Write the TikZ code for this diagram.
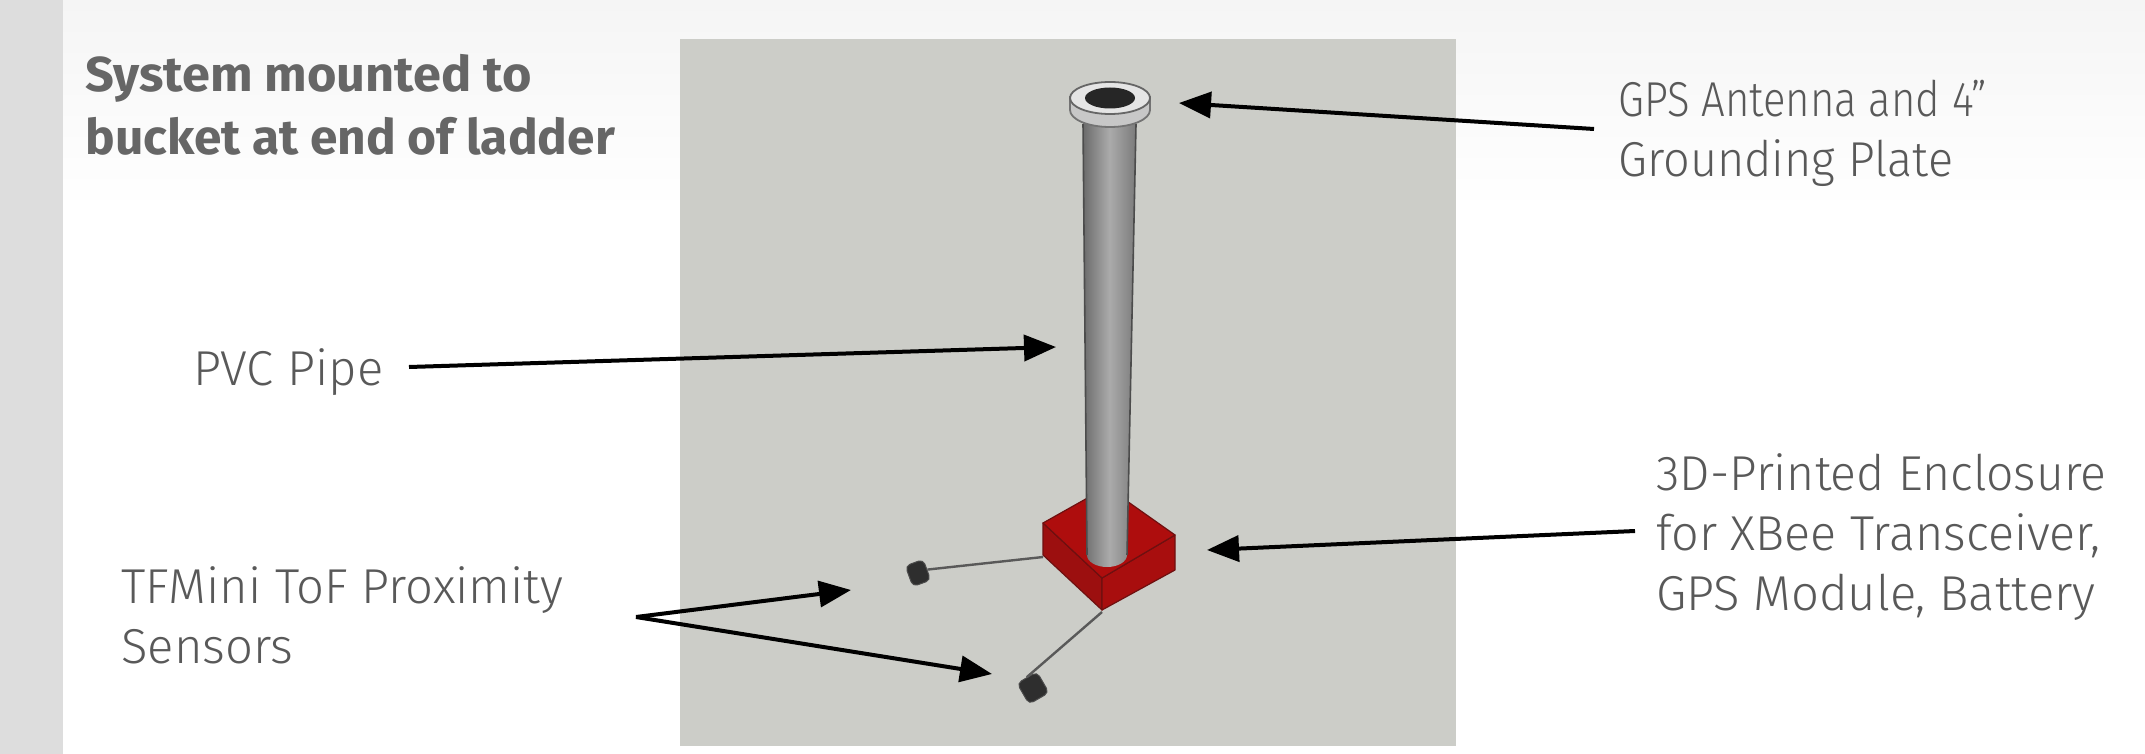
\documentclass[tikz,border=0pt]{standalone}
\usepackage{fontspec}
\setmainfont{Fira Sans}
\newfontfamily\lightfont{Fira Sans Light}
\usetikzlibrary{arrows.meta}
\definecolor{panelgray}{HTML}{CCCDC8}
\definecolor{bandgray}{HTML}{DDDDDD}
\definecolor{topgray}{HTML}{F5F5F5}
\definecolor{labelgray}{HTML}{595959}
\definecolor{titlegray}{HTML}{666666}
\definecolor{redtop}{HTML}{AE0D0D}
\definecolor{redleft}{HTML}{9C0F0F}
\definecolor{redright}{HTML}{A80E0E}
\definecolor{rededge}{HTML}{6E1010}
\newcommand{\squeeze}[2]{\scalebox{#1}[1]{#2}}
\tikzset{
  x=0.5pt,y=-0.5pt,
  callout/.style={-{Triangle[length=16pt,width=13pt]},line width=2pt,black},
  lab/.style={font=\lightfont\fontsize{24.5}{30}\selectfont,text=labelgray,align=left,inner sep=0pt,anchor=north west},
  ttl/.style={font=\fontsize{24.5}{31.5}\selectfont\bfseries,text=titlegray,align=left,inner sep=0pt,anchor=north west},
  boxface/.style={draw=rededge,line width=0.6pt,line join=round},
  sensorbody/.style={fill=black!82,draw=black!70,line width=0.5pt,rounded corners=2.5pt},
  wire/.style={draw=black!65,line width=1.2pt},
  pipeedge/.style={draw=black!70,line width=0.8pt}
}
\begin{document}
\begin{tikzpicture}
\useasboundingbox (0,0) rectangle (2145,754);
\fill[white] (0,0) rectangle (2145,754);
\shade[top color=topgray,bottom color=white] (63,0) rectangle (2145,210);
\fill[bandgray] (0,0) rectangle (63,754);
\fill[panelgray] (680,39) rectangle (1456,746);
% red enclosure
\path[boxface,fill=redleft] (1043,523) -- (1102,578) -- (1102,610) -- (1043,555) -- cycle;
\path[boxface,fill=redright] (1102,578) -- (1175,535) -- (1175,570) -- (1102,610) -- cycle;
\path[boxface,fill=redtop] (1043,523) -- (1107,487) -- (1175,535) -- (1102,578) -- cycle;
% wires and sensors
\coordinate (wireA) at (1043,557);
\coordinate (wireB) at (1102,612);
\node[sensorbody,inner sep=0pt,rotate=20,minimum width=9.5pt,minimum height=11pt] (sensorA) at (918,573) {};
\node[sensorbody,minimum width=11.5pt,minimum height=12pt,inner sep=0pt,rotate=30] (sensorB) at (1033,688) {};
\draw[wire] (wireA) -- (sensorA.east);
\draw[wire] (wireB) -- (sensorB.north);
% pipe
\shade[left color=black!58,right color=black!52,middle color=black!33] (1083,118) -- (1136,118) -- (1127,555) arc[start angle=0,end angle=180,x radius=20,y radius=12] -- cycle;
\draw[pipeedge] (1083,124) -- (1087,555);
\draw[pipeedge] (1136,124) -- (1127,555);
% antenna head
\fill[black!22,draw=black!55,line width=0.9pt] (1070,97) -- (1070,110) arc[start angle=180,end angle=0,x radius=40,y radius=17] -- (1150,97) -- cycle;
\fill[black!10,draw=black!60,line width=0.9pt] (1110,98) ellipse[x radius=40,y radius=16];
\fill[black!85] (1110,98) ellipse[x radius=25,y radius=10.5];
% labels
\node[ttl] (title) at (85,54) {\squeeze{1.03}{System mounted to}\\\squeeze{1.013}{bucket at end of ladder}};
\node[lab] (gps) at (1618,80) {\squeeze{0.855}{GPS Antenna and 4”}\\\squeeze{0.955}{Grounding Plate}};
\node[lab] (pvc) at (193,348) {PVC Pipe};
\node[lab] (encl) at (1656,453) {\squeeze{0.982}{3D-Printed Enclosure}\\\squeeze{0.99}{for XBee Transceiver,}\\GPS Module, Battery};
\node[lab] (tof) at (121,566) {TFMini ToF Proximity\\Sensors};
% connectors
\coordinate (gpsS) at (1594,129);
\coordinate (gpsE) at (1179,103);
\coordinate (pvcS) at (409,367);
\coordinate (pvcE) at (1056,347);
\coordinate (enclS) at (1635,531);
\coordinate (enclE) at (1207,550);
\coordinate (tofS) at (636,617);
\coordinate (tofA) at (851,590);
\coordinate (tofB) at (992,674);
\draw[callout] (gpsS) -- (gpsE);
\draw[callout] (pvcS) -- (pvcE);
\draw[callout] (enclS) -- (enclE);
\draw[callout] (tofS) -- (tofA);
\draw[callout] (tofS) -- (tofB);
\end{tikzpicture}
\end{document}
